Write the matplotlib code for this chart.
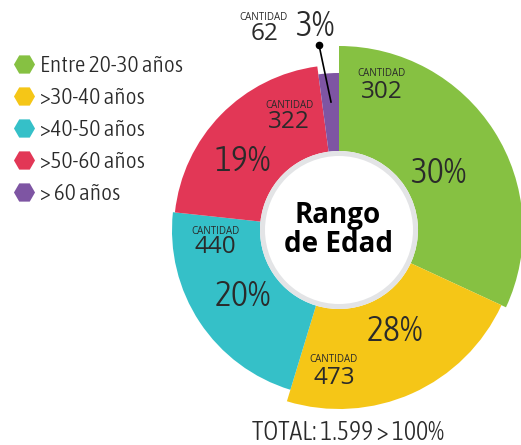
import numpy as np
import matplotlib
matplotlib.use('Agg')
import matplotlib.pyplot as plt
from matplotlib.patches import Wedge, Circle

# Datos
categorias = ['Entre 20-30 años', '>30-40 años', '>40-50 años', '>50-60 años', '> 60 años']
cantidades = [302, 473, 440, 322, 62]
porcentajes = ['30%', '28%', '20%', '19%', '3%']
# tamaño de cada sector tal como se dibuja (% del círculo)
tamano_sector = [31.9, 22.8, 22.0, 21.2, 2.1]
# radio exterior de cada sector (px)
radio_sector = [184, 179, 167, 165, 157]
colores = ['#86c142', '#f5c617', '#35c0c8', '#e23756', '#7e55a3']
total_txt = 'TOTAL: 1.599 > 100%'

W, H = 521, 445
fig = plt.figure(figsize=(W / 100, H / 100), dpi=100)
ax = fig.add_axes([0, 0, 1, 1])
ax.set_xlim(0, W)
ax.set_ylim(H, 0)  # coordenadas tipo imagen
ax.axis('off')

fuente = ['Asap Condensed', 'DejaVu Sans']
fuente2 = ['Open Sans', 'DejaVu Sans']
peso = 300
gris = '#2a2a2a'

# Sectores (inicio arriba, sentido horario en pantalla)
cx, cy = 339, 230
r_int = 79
angulos = np.cumsum([0] + [t * 3.6 for t in tamano_sector])
for i in range(len(categorias)):
    # eje y invertido: ángulo en datos = -ángulo en pantalla
    a1 = -90 + angulos[i]
    a2 = -90 + angulos[i + 1]
    ax.add_patch(Wedge((cx, cy), radio_sector[i], a1, a2,
                       width=radio_sector[i] - r_int, color=colores[i], lw=0))

# Círculo central
ax.add_patch(Circle((cx, cy), r_int, color='#e3e4e6', lw=0))
ax.add_patch(Circle((cx, cy), r_int - 5, color='white', lw=0))
ax.text(cx - 1, 215, 'Rango', ha='center', va='center', fontsize=20,
        fontweight='bold', family=fuente2, color='black')
ax.text(cx - 1, 245, 'de Edad', ha='center', va='center', fontsize=20,
        fontweight='bold', family=fuente2, color='black')

# Etiquetas de cada sector: (x, y CANTIDAD), (x, y número), (x, y porcentaje)
pos_cant = [(382, 74), (334, 360), (215, 231), (290, 105), (264, 17)]
pos_num = [(382, 92), (334, 378), (215, 247), (289, 122), (265, 34)]
pos_pct = [(438, 173), (395, 331), (243, 296), (243, 161), (315, 26)]
for i in range(len(categorias)):
    ax.text(*pos_cant[i], 'CANTIDAD', ha='center', va='center', fontsize=7,
            family=fuente2, color=gris)
    ax.text(*pos_num[i], str(cantidades[i]), ha='center', va='center',
            fontsize=17.5, family=fuente2, color=gris)
    ax.text(*pos_pct[i], porcentajes[i], ha='center', va='center',
            fontsize=26, family=fuente, fontweight=peso, color=gris)

# Línea guía del 3%
ax.plot([319, 331], [45, 102], color='black', lw=1.2)
ax.plot([319], [45], 'o', color='black', ms=4.5)

# Leyenda con hexágonos
for i, cat in enumerate(categorias):
    y = 64 + 32 * i
    ax.scatter([23.5], [y], marker='H', s=230, color=colores[i], lw=0)
    ax.text(40, y + 8, cat, ha='left', va='baseline', fontsize=16.8,
            family=fuente, fontweight=peso, color=gris)

# Total
ax.text(348, 440, total_txt, ha='center', va='baseline', fontsize=18.5,
        family=fuente, fontweight=peso, color=gris)

fig.savefig('out.png', dpi=100)
